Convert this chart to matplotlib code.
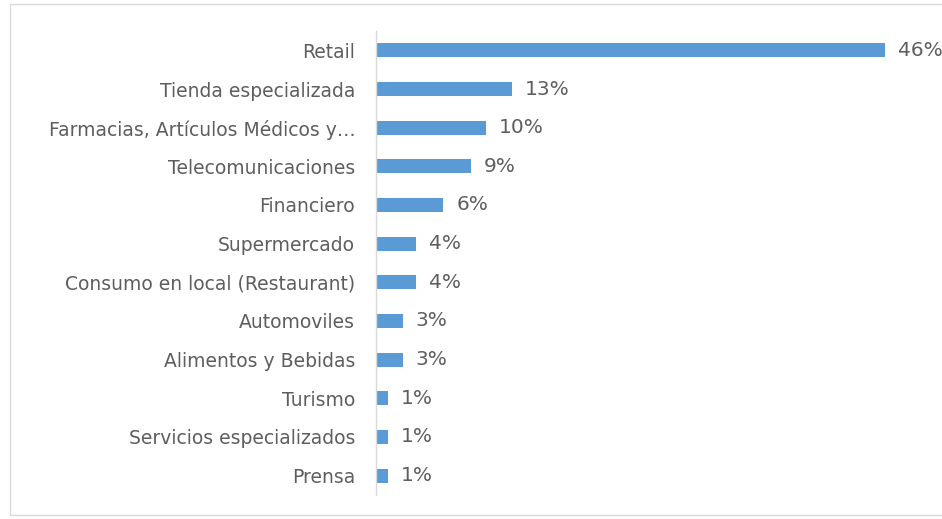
import matplotlib.pyplot as plt
from matplotlib.patches import Rectangle

plt.rcParams['font.family'] = ['DejaVu Sans']

categories = [
    "Retail",
    "Tienda especializada",
    "Farmacias, Artículos Médicos y…",
    "Telecomunicaciones",
    "Financiero",
    "Supermercado",
    "Consumo en local (Restaurant)",
    "Automoviles",
    "Alimentos y Bebidas",
    "Turismo",
    "Servicios especializados",
    "Prensa",
]
# bar lengths (percent)
values = [46.0, 12.3, 9.9, 8.6, 6.1, 3.6, 3.6, 2.4, 2.4, 1.1, 1.1, 1.1]
value_labels = ["46%", "13%", "10%", "9%", "6%", "4%", "4%", "3%", "3%", "1%", "1%", "1%"]

W, H = 942, 519
fig = plt.figure(figsize=(W / 100, H / 100), dpi=100)
fig.patch.set_facecolor("white")

# light frame around the chart area
fig.add_artist(Rectangle((10 / W, 4 / H), 1.0, (515 - 4) / H, transform=fig.transFigure,
                         fill=False, edgecolor="#d9d9d9", linewidth=1))

left, right = 376 / W, 885 / W
top, bottom = 1 - 31 / H, 1 - 495 / H
ax = fig.add_axes([left, bottom, right - left, top - bottom])

text_color = "#5e5e5e"

y = list(range(len(categories)))
ax.barh(y, values, height=0.36, color="#5b9bd5")
ax.set_xlim(0, 46)
ax.set_ylim(len(categories) - 0.5, -0.5)

for i, (v, lab) in enumerate(zip(values, value_labels)):
    ax.annotate(lab, (v, i), xytext=(13, 0), textcoords="offset pixels",
                va="center", ha="left", fontsize=14.5, color=text_color, clip_on=False)

ax.set_yticks(y)
ax.set_yticklabels(categories, fontsize=13.5, color=text_color)
ax.tick_params(axis="y", length=0, pad=15)
ax.set_xticks([])
for s in ["top", "right", "bottom"]:
    ax.spines[s].set_visible(False)
ax.spines["left"].set_color("#d9d9d9")
ax.spines["left"].set_linewidth(1)

fig.savefig("out.png", dpi=100)
